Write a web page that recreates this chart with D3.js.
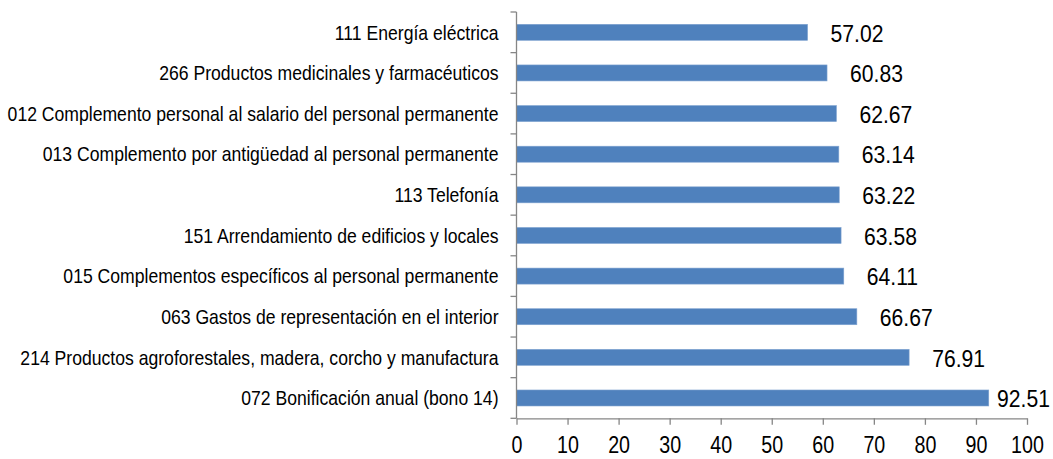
<!DOCTYPE html>
<html>
<head>
<meta charset="utf-8">
<script src="https://cdn.jsdelivr.net/npm/d3@7"></script>
<style>
  body { margin: 0; background: #fff; }
  text { font-family: "Liberation Sans", Arial, sans-serif; fill: #000; }
</style>
</head>
<body>
<svg id="chart" width="1053" height="459"></svg>
<script>
const categories = [
    '111 Energía eléctrica',
    '266 Productos medicinales y farmacéuticos',
    '012 Complemento personal al salario del personal permanente',
    '013 Complemento por antigüedad al personal permanente',
    '113 Telefonía',
    '151 Arrendamiento de edificios y locales',
    '015 Complementos específicos al personal permanente',
    '063 Gastos de representación en el interior',
    '214 Productos agroforestales, madera, corcho y manufactura',
    '072 Bonificación anual (bono 14)',
];
const values = [57.02, 60.83, 62.67, 63.14, 63.22, 63.58, 64.11, 66.67, 76.91, 92.51];
const xTicks = [0, 10, 20, 30, 40, 50, 60, 70, 80, 90, 100];

const W = 1053;
const plotLeft = 516.5;
const plotRight = 1027;
const plotTop = 12;
const plotBottom = 418.3;
const axisColor = '#868686';
// the source font is narrow, squeeze Liberation Sans horizontally
const catSqueeze = 0.88;
const valSqueeze = 0.92;
const tickSqueeze = 0.82;

const svg = d3.select('#chart');

const x = d3.scaleLinear().domain([0, 100]).range([plotLeft, plotRight]);
const y = d3.scaleBand().domain(categories).range([plotTop, plotBottom]);
const band = y.bandwidth();

// squeezed text anchored at (data-x, data-y)
function squeezed(sel, k) {
    sel.attr('transform', function() {
        const px = +this.getAttribute('data-x');
        const py = +this.getAttribute('data-y');
        return `translate(${px},${py}) scale(${k},1)`;
    });
}

// bars
svg.append('g')
    .selectAll('rect')
    .data(values)
    .enter().append('rect')
    .attr('x', x(0))
    .attr('y', (d, i) => y(categories[i]) + band / 2 - 8)
    .attr('width', (d) => x(d) - x(0))
    .attr('height', 16)
    .attr('fill', '#4F81BD')
    .attr('stroke', '#7FA3D0')
    .attr('stroke-width', 0.6);

// value labels (pulled back inside when they would run off the edge)
const vals = svg.append('g')
    .selectAll('text')
    .data(values)
    .enter().append('text')
    .attr('data-y', (d, i) => y(categories[i]) + band / 2 + 1)
    .attr('dy', '0.36em')
    .style('font-size', '23px')
    .text((d) => d.toFixed(2));
vals.attr('data-x', function(d) {
    const w = this.getComputedTextLength() * valSqueeze;
    return Math.min(x(d) + 23, W - 3 - w);
});
squeezed(vals, valSqueeze);

// y axis line + ticks at band edges
const gy = svg.append('g');
gy.append('line')
    .attr('x1', plotLeft).attr('x2', plotLeft)
    .attr('y1', plotTop).attr('y2', plotBottom)
    .attr('stroke', axisColor).attr('stroke-width', 1.3);
gy.selectAll('line.tick')
    .data(d3.range(categories.length + 1))
    .enter().append('line')
    .attr('class', 'tick')
    .attr('x1', plotLeft - 6).attr('x2', plotLeft)
    .attr('y1', (i) => plotTop + band * i)
    .attr('y2', (i) => plotTop + band * i)
    .attr('stroke', axisColor).attr('stroke-width', 1.3);
const cats = gy.selectAll('text')
    .data(categories)
    .enter().append('text')
    .attr('data-x', plotLeft - 18)
    .attr('data-y', (d) => y(d) + band / 2)
    .attr('dy', '0.36em')
    .attr('text-anchor', 'end')
    .style('font-size', '20px')
    .text((d) => d);
squeezed(cats, catSqueeze);

// x axis
const xAxis = d3.axisBottom(x).tickValues(xTicks).tickSize(6.5).tickSizeOuter(0).tickPadding(8);
const gx = svg.append('g')
    .attr('transform', `translate(0, ${plotBottom})`)
    .call(xAxis);
gx.select('.domain').attr('stroke', axisColor).attr('stroke-width', 1.3);
gx.selectAll('.tick line').attr('stroke', axisColor).attr('stroke-width', 1.3);
gx.selectAll('.tick text')
    .attr('y', 0)
    .attr('dy', 0)
    .attr('transform', `translate(0, 35) scale(${tickSqueeze},1)`)
    .style('font-size', '24px')
    .style('font-family', '"Liberation Sans", Arial, sans-serif')
    .attr('fill', '#000');
</script>
</body>
</html>
